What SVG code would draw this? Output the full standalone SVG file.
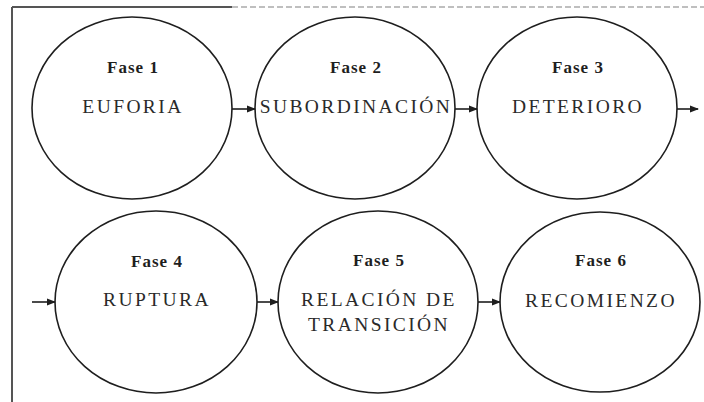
<svg xmlns="http://www.w3.org/2000/svg" width="704" height="402" viewBox="0 0 704 402">
<style>
.node ellipse{fill:#fff;stroke:#1e1e1e;stroke-width:1.6}
.fase{font-family:"Liberation Serif","DejaVu Serif",serif;font-weight:bold;font-size:17px;fill:#1e1e1e;text-anchor:middle;letter-spacing:1px}
.lbl{font-family:"Liberation Serif","DejaVu Serif",serif;font-size:19.5px;fill:#2a2a2a;text-anchor:middle;letter-spacing:2.4px}
.conn line{stroke:#1e1e1e;stroke-width:1.6;fill:none}
</style>
<defs>
<marker id="ah" markerWidth="9" markerHeight="8" refX="8" refY="4" orient="auto" markerUnits="userSpaceOnUse">
<path d="M0,0.5 L9,4 L0,7.5 Z" fill="#1e1e1e"/>
</marker>
</defs>
<rect width="704" height="402" fill="#fff"/>
<g id="frame">
<line x1="12" y1="7" x2="232" y2="7" stroke="#555" stroke-width="2"/>
<line x1="232" y1="7" x2="704" y2="7" stroke="#aaa" stroke-width="1.5" stroke-dasharray="6,3"/>
<line x1="12" y1="7" x2="12" y2="402" stroke="#555" stroke-width="2"/>
</g>
<g id="fase1" class="node">
<ellipse cx="132" cy="108" rx="100" ry="91"/>
<text class="fase" x="133" y="73">Fase 1</text>
<text class="lbl" x="133" y="113">EUFORIA</text>
</g>
<g id="fase2" class="node">
<ellipse cx="355" cy="108" rx="100" ry="91"/>
<text class="fase" x="356" y="73">Fase 2</text>
<text class="lbl" x="356" y="113">SUBORDINACIÓN</text>
</g>
<g id="fase3" class="node">
<ellipse cx="577" cy="108" rx="100" ry="91"/>
<text class="fase" x="578" y="73">Fase 3</text>
<text class="lbl" x="578" y="113">DETERIORO</text>
</g>
<g id="fase4" class="node">
<ellipse cx="156" cy="302" rx="101" ry="91"/>
<text class="fase" x="157" y="267">Fase 4</text>
<text class="lbl" x="157" y="306">RUPTURA</text>
</g>
<g id="fase5" class="node">
<ellipse cx="378" cy="302" rx="100" ry="91"/>
<text class="fase" x="379" y="266">Fase 5</text>
<text class="lbl" x="379" y="306">RELACIÓN DE</text>
<text class="lbl" x="379" y="331">TRANSICIÓN</text>
</g>
<g id="fase6" class="node">
<ellipse cx="600" cy="302" rx="100" ry="90"/>
<text class="fase" x="601" y="266">Fase 6</text>
<text class="lbl" x="601" y="307">RECOMIENZO</text>
</g>
<g id="connectors" class="conn">
<line x1="232" y1="109" x2="255" y2="109" marker-end="url(#ah)"/>
<line x1="455" y1="109" x2="477" y2="109" marker-end="url(#ah)"/>
<line x1="677" y1="109" x2="698" y2="109" marker-end="url(#ah)"/>
<line x1="32" y1="302" x2="55" y2="302" marker-end="url(#ah)"/>
<line x1="257" y1="302" x2="278" y2="302" marker-end="url(#ah)"/>
<line x1="478" y1="302" x2="500" y2="302" marker-end="url(#ah)"/>
</g>
</svg>
